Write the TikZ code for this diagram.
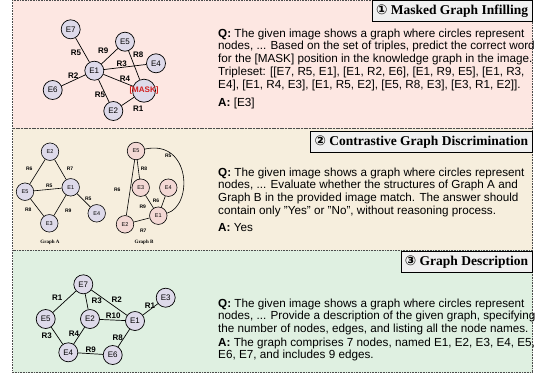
\documentclass[tikz,border=0pt]{standalone}
\usepackage{fontspec}
\setmainfont{Liberation Sans}
\newfontfamily\titlefont{Liberation Serif}
\newfontfamily\numfont{DejaVu Sans}
\usepackage{tikz}
\usetikzlibrary{positioning}

\definecolor{pinkbg}{RGB}{253,231,226}
\definecolor{tanbg}{RGB}{246,238,221}
\definecolor{greenbg}{RGB}{223,240,225}
\definecolor{entfill}{RGB}{222,218,234}
\definecolor{entpink}{RGB}{243,216,212}
\definecolor{maskred}{RGB}{210,30,30}
\definecolor{boxgray}{RGB}{240,240,240}

\tikzset{
  panel/.style={draw=black!70, densely dotted, line width=0.6pt},
  titlebox/.style={draw, line width=0.8pt, fill=boxgray, anchor=north east, minimum height=21pt, inner xsep=4pt, font=\titlefont\bfseries\fontsize{13.5}{14}\selectfont},
  ent/.style={circle, draw, line width=0.7pt, fill=entfill, minimum size=19pt, inner sep=0pt, font=\fontsize{8}{8}\selectfont},
  rel/.style={inner sep=0pt, font=\bfseries\fontsize{8}{8}\selectfont},
  sment/.style={ent, minimum size=17.5pt, line width=0.6pt, font=\fontsize{5.5}{5.5}\selectfont},
  smrel/.style={inner sep=0pt, font=\bfseries\fontsize{5}{5}\selectfont},
  link/.style={line width=0.7pt},
  qa/.style={anchor=north west, align=left, inner sep=0pt, font=\fontsize{11.7}{12.7}\selectfont}
}

\begin{document}
\begin{tikzpicture}[x=1pt, y=-1pt]
        \useasboundingbox (0,0) rectangle (535,378);

        % panels
        \fill[pinkbg] (12.5,0) rectangle (532.5,128);
        \fill[tanbg] (12.5,128) rectangle (532.5,250);
        \fill[greenbg] (12.5,250) rectangle (532.5,372.5);
        \draw[panel] (12.5,0) rectangle (532.5,128);
        \draw[panel] (12.5,128) rectangle (532.5,250);
        \draw[panel] (12.5,250) rectangle (532.5,372.5);

        \node[titlebox] (T1) at (532.5,0) {{\numfont ①} Masked Graph Infilling};
        \node[titlebox] (T2) at (532.5,131) {{\numfont ②} Contrastive Graph Discrimination};
        \node[titlebox] (T3) at (532.5,251) {{\numfont ③} Graph Description};

        % masked graph
        \node[ent] (E7) at (70.7,29.3) {E7};
        \node[ent] (E5) at (125,41.7) {E5};
        \node[ent] (E4) at (156,63.3) {E4};
        \node[ent] (E1) at (94.3,70.7) {E1};
        \node[ent] (E6) at (52.7,90) {E6};
        \node[ent, minimum size=23pt] (EM) at (144,90.7) {};
        \node[ent] (E2) at (113.3,111) {E2};

        \draw[link] (E7) -- (E1);
        \draw[link] (E1) -- (E5);
        \draw[link] (E1) -- (E4);
        \draw[link] (E1) -- (E6);
        \draw[link] (E1) -- (EM);
        \draw[link] (E1) -- (E2);
        \draw[link] (E5) -- (EM);
        \draw[link] (EM) -- (E2);

        \node[text=maskred, inner sep=0pt, font=\bfseries\fontsize{8}{8}\selectfont] (mask) at (EM) {[MASK]};

        \node[rel] (r75) at (76,52.7) {R5};
        \node[rel] (r19) at (103.3,50.7) {R9};
        \node[rel] (r58) at (138.3,54.3) {R8};
        \node[rel] (r13) at (121.7,63.3) {R3};
        \node[rel] (r14) at (125,78.3) {R4};
        \node[rel] (r12) at (73.3,76) {R2};
        \node[rel] (r15) at (100,95) {R5};
        \node[rel] (r31) at (138.3,108.3) {R1};

        \node[qa] (Q1) at (218,28.6) {\textbf{Q:} The given image shows a graph where circles represent\\
nodes, ... Based on the set of triples, predict the correct word\\
for the [MASK] position in the knowledge graph in the image.\\
Tripleset: [[E7, R5, E1], [E1, R2, E6], [E1, R9, E5], [E1, R3,\\
E4], [E1, R4, E3], [E1, R5, E2], [E5, R8, E3], [E3, R1, E2]].};
        \node[qa] (A1) at (218,97.4) {\textbf{A:} [E3]};

        % graph A
        \node[sment] (GA2) at (50,151.7) {E2};
        \node[sment] (GA5) at (25,191.7) {E5};
        \node[sment] (GA1) at (70.7,187.3) {E1};
        \node[sment] (GA3) at (49.3,223.3) {E3};
        \node[sment] (GA4) at (96.7,213.3) {E4};

        \draw[link, line width=0.6pt] (GA2) -- (GA5);
        \draw[link, line width=0.6pt] (GA2) -- (GA1);
        \draw[link, line width=0.6pt] (GA5) -- (GA1);
        \draw[link, line width=0.6pt] (GA5) -- (GA3);
        \draw[link, line width=0.6pt] (GA1) -- (GA3);
        \draw[link, line width=0.6pt] (GA1) -- (GA4);

        \node[smrel] at (29.3,168.3) {R6};
        \node[smrel] at (70,168.3) {R7};
        \node[smrel] at (49.3,186) {R5};
        \node[smrel] at (28.3,209.3) {R8};
        \node[smrel] at (68.3,211) {R9};
        \node[smrel] at (88.3,199) {R5};
        \node[inner sep=0pt, font=\titlefont\bfseries\fontsize{5}{5}\selectfont] (capA) at (50,242.3) {Graph A};

        % graph B
        \node[sment, fill=entpink] (GB5) at (136,151) {E5};
        \node[sment, fill=entpink] (GB3) at (140.7,187.7) {E3};
        \node[sment, fill=entpink] (GB4) at (168.3,187.7) {E4};
        \node[sment, fill=entpink] (GB1) at (158.3,215.7) {E1};
        \node[sment, fill=entpink] (GB2) at (125,224.3) {E2};

        \draw[link, line width=0.6pt] (GB5) -- (GB3);
        \draw[link, line width=0.6pt] (GB5) -- (GB2);
        \draw[link, line width=0.6pt] (GB5) .. controls +(55,-12) and +(35,-10) .. (GB1);
        \draw[link, line width=0.6pt] (GB3) -- (GB1);
        \draw[link, line width=0.6pt] (GB4) -- (GB1);
        \draw[link, line width=0.6pt] (GB2) -- (GB1);

        \node[smrel] at (144,168.3) {R8};
        \node[smrel] at (117.3,190) {R6};
        \node[smrel] at (168.3,155.7) {R5};
        \node[smrel] at (142.7,206.7) {R9};
        \node[smrel] at (156,201) {R6};
        \node[smrel] at (143.3,231) {R7};
        \node[inner sep=0pt, font=\titlefont\bfseries\fontsize{5}{5}\selectfont] (capB) at (144,242.3) {Graph B};

        \node[qa] (Q2) at (218,167.6) {\textbf{Q:} The given image shows a graph where circles represent\\
nodes, ... Evaluate whether the structures of Graph A and\\
Graph B in the provided image match. The answer should\\
contain only "Yes" or "No", without reasoning process.};
        \node[qa] (A2) at (218,223.4) {\textbf{A:} Yes};

        % description graph
        \node[ent] (D7) at (83.3,284.3) {E7};
        \node[ent] (D5) at (45.7,319) {E5};
        \node[ent] (D2) at (90,319) {E2};
        \node[ent] (D1) at (135,321) {E1};
        \node[ent] (D3) at (165.7,297.7) {E3};
        \node[ent] (D4) at (68.3,352.3) {E4};
        \node[ent] (D6) at (112.7,355) {E6};

        \draw[link] (D7) -- (D5);
        \draw[link] (D7) -- (D2);
        \draw[link] (D7) -- (D1);
        \draw[link] (D1) -- (D3);
        \draw[link] (D2) -- (D1);
        \draw[link] (D5) -- (D4);
        \draw[link] (D2) -- (D4);
        \draw[link] (D4) -- (D6);
        \draw[link] (D6) -- (D1);

        \node[rel] at (57.3,297.7) {R1};
        \node[rel] at (96.7,301) {R3};
        \node[rel] at (116.7,300) {R2};
        \node[rel] at (150,306) {R1};
        \node[rel] at (113.3,316) {R10};
        \node[rel] at (46.7,335.7) {R3};
        \node[rel] at (74,333.3) {R4};
        \node[rel] at (90.7,350) {R9};
        \node[rel] at (117.7,337.7) {R8};

        \node[qa] (Q3) at (218,298.4) {\textbf{Q:} The given image shows a graph where circles represent\\
nodes, ... Provide a description of the given graph, specifying\\
the number of nodes, edges, and listing all the node names.};
        \node[qa] (A3) at (218,337.4) {\textbf{A:} The graph comprises 7 nodes, named E1, E2, E3, E4, E5,\\
E6, E7, and includes 9 edges.};

    \end{tikzpicture}
\end{document}
